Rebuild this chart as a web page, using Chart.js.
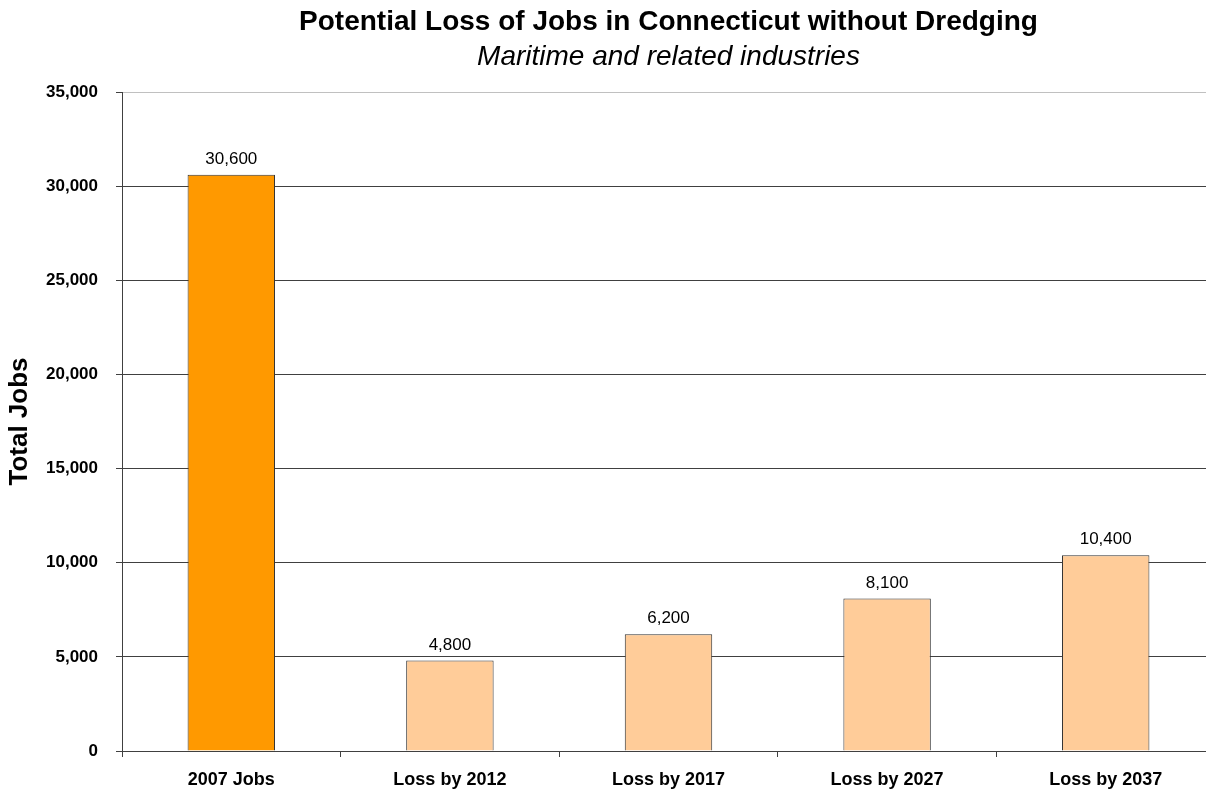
<!DOCTYPE html>
<html>
<head>
<meta charset="utf-8">
<script src="https://cdn.jsdelivr.net/npm/chart.js@4.4.1/dist/chart.umd.min.js"></script>
<style>
  html, body { margin: 0; padding: 0; background: #fff; overflow: hidden; }
  #wrap { position: relative; width: 1206px; height: 793px; overflow: hidden; }
  #title, #subtitle {
    position: absolute; left: 122px; width: 1093px; text-align: center;
    font-family: "Liberation Sans", Arial, sans-serif; color: #000; white-space: nowrap;
  }
  #title { top: 5px; font-size: 28px; font-weight: bold; }
  #subtitle { top: 40px; font-size: 28px; font-style: italic; }
  canvas { position: absolute; left: 0; top: 0; }
</style>
</head>
<body>
<div id="wrap">
  <canvas id="myChart" width="1216" height="793"></canvas>
  <div id="title">Potential Loss of Jobs in Connecticut without Dredging</div>
  <div id="subtitle">Maritime and related industries</div>
</div>
<script>
const categories = ["2007 Jobs", "Loss by 2012", "Loss by 2017", "Loss by 2027", "Loss by 2037"];
const jobValues = [30600, 4800, 6200, 8100, 10400];
const yTicks = [0, 5000, 10000, 15000, 20000, 25000, 30000, 35000];
const barColors = ["#FF9900", "#FFCC99", "#FFCC99", "#FFCC99", "#FFCC99"];

const fontName = '"Liberation Sans", Arial, sans-serif';

// draws the value above each bar
const valueLabels = {
  id: 'valueLabels',
  afterDatasetsDraw(chart) {
    const ctx = chart.ctx;
    const meta = chart.getDatasetMeta(0);
    ctx.save();
    ctx.font = '17px ' + fontName;
    ctx.fillStyle = '#000';
    ctx.textAlign = 'center';
    ctx.textBaseline = 'bottom';
    meta.data.forEach((bar, i) => {
      ctx.fillText(jobValues[i].toLocaleString('en-US'), bar.x, bar.y - 7);
    });
    ctx.restore();
  }
};

const ctx = document.getElementById("myChart").getContext("2d");
const chart = new Chart(ctx, {
  type: "bar",
  data: {
    labels: categories,
    datasets: [{
      data: jobValues,
      backgroundColor: barColors,
      borderColor: "#333333",
      borderWidth: 1,
      barPercentage: 1,
      categoryPercentage: 0.4
    }]
  },
  options: {
    responsive: false,
    animation: false,
    layout: { padding: { top: 92, right: 1, left: 0, bottom: 0 } },
    plugins: {
      legend: { display: false },
      tooltip: { enabled: false },
      title: { display: false }
    },
    scales: {
      x: {
        offset: true,
        grid: {
          offset: true,
          drawOnChartArea: false,
          drawTicks: true,
          tickLength: 6,
          color: "#404040"
        },
        border: { display: true, color: "#404040" },
        ticks: {
          color: "#000",
          padding: 12,
          font: { family: fontName, size: 18, weight: "bold" }
        },
        afterFit(s) { s.height = 42; }
      },
      y: {
        min: 0,
        max: 35000,
        afterBuildTicks(s) { s.ticks = yTicks.map(v => ({ value: v })); },
        grid: {
          color: c => (c.tick && c.tick.value === 35000) ? "#c0c0c0" : "#404040",
          tickLength: 6,
          tickColor: "#404040"
        },
        border: { display: true, color: "#404040" },
        ticks: {
          color: "#000",
          padding: 18,
          font: { family: fontName, size: 17, weight: "bold" },
          callback: v => v.toLocaleString('en-US')
        },
        title: {
          display: true,
          text: "Total Jobs",
          color: "#000",
          padding: { top: 4, bottom: 0 },
          font: { family: fontName, size: 26, weight: "bold" }
        },
        afterFit(s) { s.width = 122; }
      }
    }
  },
  plugins: [valueLabels]
});
</script>
</body>
</html>
